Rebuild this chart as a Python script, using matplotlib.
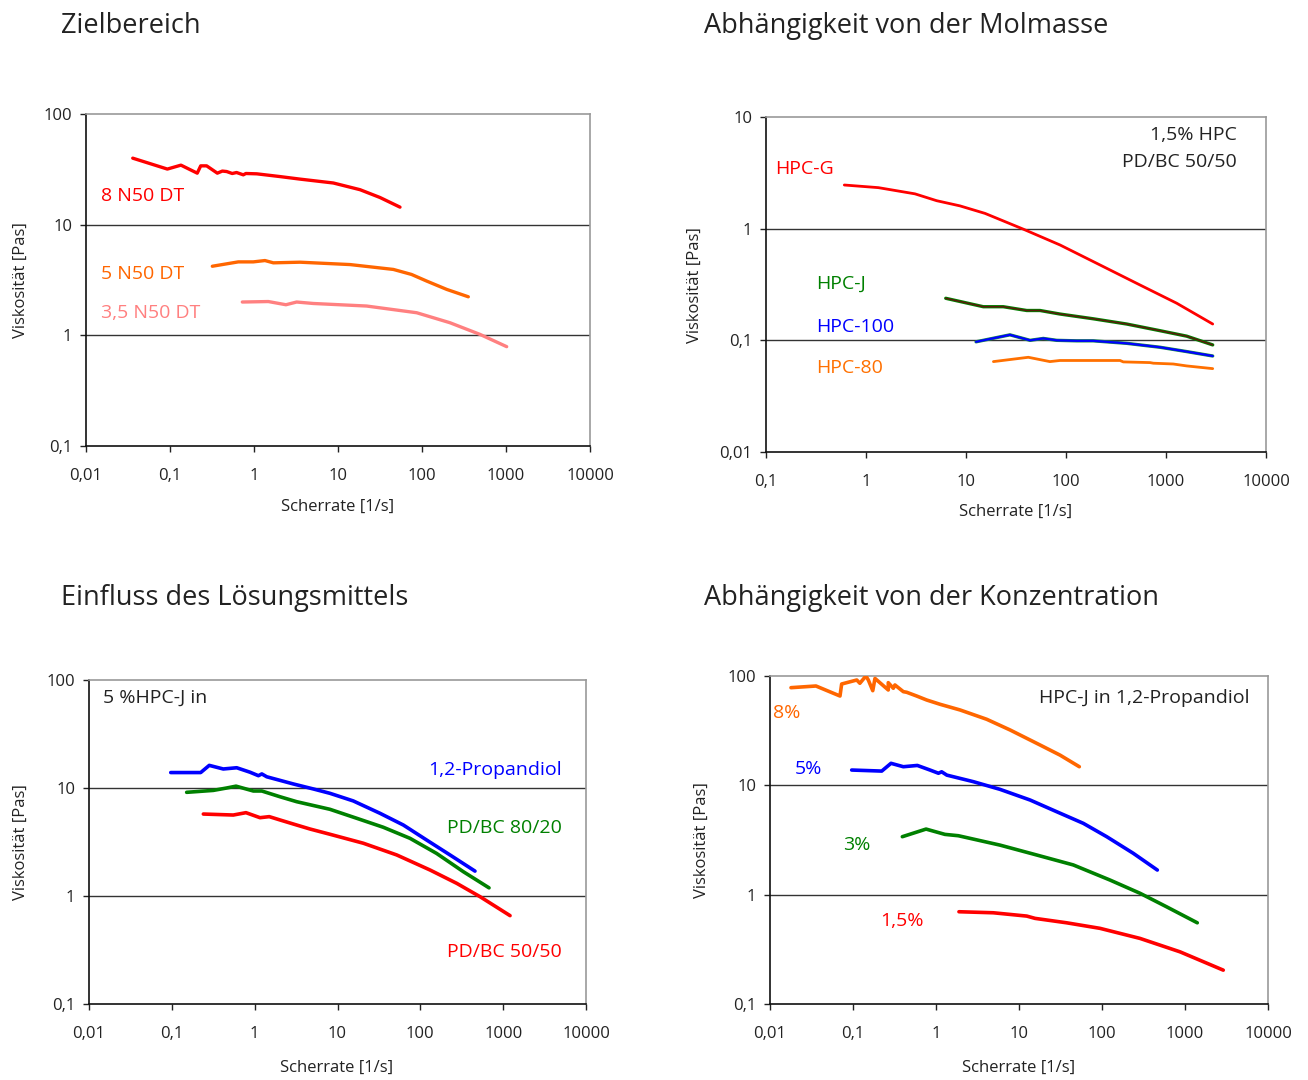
import numpy as np
import matplotlib
matplotlib.use('Agg')
import matplotlib.pyplot as plt
from matplotlib.ticker import FixedLocator, FixedFormatter, NullLocator

plt.rcParams['font.family'] = ['Open Sans', 'DejaVu Sans']

# --- Zielbereich ---
n8_x = [0.036, 0.093, 0.135, 0.211, 0.232, 0.273, 0.366, 0.42, 0.473, 0.55, 0.62, 0.746, 0.8, 1.08, 2.04, 3.53,
        8.8, 18.3, 31.6, 54.7]
n8_y = [39.9, 31.8, 34.5, 29.2, 34.0, 34.0, 29.2, 30.5, 30.2, 29.0, 29.6, 28.2, 29.0, 28.8, 27.2, 25.8,
        23.8, 20.7, 17.6, 14.4]
n5_x = [0.319, 0.65, 0.98, 1.35, 1.7, 3.53, 13.9, 45.6, 75, 114, 197, 356]
n5_y = [4.21, 4.61, 4.61, 4.74, 4.52, 4.58, 4.36, 3.94, 3.55, 3.09, 2.6, 2.23]
n35_x = [0.726, 1.48, 2.4, 3.22, 5.08, 21.9, 86.5, 215, 490, 1019]
n35_y = [2.0, 2.02, 1.89, 2.0, 1.94, 1.84, 1.6, 1.3, 1.02, 0.79]

# --- Molmasse ---
hpcg_x = [0.607, 1.33, 3.09, 5.09, 8.7, 15.5, 37.4, 87, 219, 550, 1279, 2931]
hpcg_y = [2.46, 2.33, 2.05, 1.78, 1.60, 1.37, 0.99, 0.715, 0.473, 0.313, 0.215, 0.140]
hpcj_x = [6.27, 14.9, 23.6, 40.5, 55, 87, 187, 404, 871, 1610, 2931]
hpcj_y = [0.238, 0.200, 0.200, 0.185, 0.185, 0.172, 0.156, 0.140, 0.122, 0.109, 0.091]
hpc100_x = [12.6, 27.5, 43.7, 59.3, 80.8, 128, 187, 404, 871, 1610, 2931]
hpc100_y = [0.097, 0.112, 0.100, 0.104, 0.100, 0.099, 0.099, 0.094, 0.0867, 0.0793, 0.0724]
hpc80_x = [18.8, 42, 69, 87, 347, 374, 692, 747, 1180, 1610, 2931]
hpc80_y = [0.0645, 0.0705, 0.0645, 0.066, 0.066, 0.0641, 0.0632, 0.0624, 0.0614, 0.059, 0.0558]

# --- Lösungsmittel ---
prop_x = [0.097, 0.223, 0.283, 0.418, 0.607, 0.879, 1.11, 1.22, 1.4, 2.93, 5.1, 8.1, 15.5, 32.6, 62.4, 119, 228, 457]
prop_y = [13.9, 13.9, 16.2, 15.0, 15.4, 14.0, 13.0, 13.5, 12.7, 10.9, 9.8, 8.93, 7.59, 5.83, 4.54, 3.30, 2.40, 1.70]
pd80_x = [0.151, 0.316, 0.459, 0.596, 0.964, 1.22, 2.02, 3.21, 8.1, 17.1, 35.7, 75, 157, 330, 675]
pd80_y = [9.12, 9.5, 10.0, 10.4, 9.38, 9.38, 8.3, 7.47, 6.35, 5.24, 4.33, 3.42, 2.48, 1.68, 1.19]
pd50_x = [0.24, 0.552, 0.785, 1.16, 1.5, 2.02, 2.93, 4.66, 8.1, 20.5, 51.8, 131, 275, 525, 1211]
pd50_y = [5.74, 5.62, 5.91, 5.31, 5.43, 5.06, 4.64, 4.17, 3.73, 3.08, 2.40, 1.74, 1.31, 0.986, 0.658]

# --- Konzentration ---
c8_x = [0.0179, 0.0358, 0.0697, 0.073, 0.111, 0.121, 0.143, 0.153, 0.173, 0.184, 0.266, 0.266, 0.306, 0.32, 0.404,
        0.443, 0.585, 0.773, 1.12, 1.95, 4.08, 7.8, 17.9, 31.2, 53.3]
c8_y = [78.2, 81.0, 65.6, 84.5, 91.9, 85.8, 100, 91.9, 73.4, 95.0, 74.5, 86.9, 77.2, 82.8, 71.9,
        71.0, 65.6, 60.3, 55.1, 48.9, 40.2, 32.1, 23.4, 18.9, 14.8]
c5_x = [0.0964, 0.222, 0.287, 0.404, 0.596, 0.847, 1.07, 1.17, 1.35, 2.82, 5.9, 13.6, 28.4, 59.6, 114, 238, 464]
c5_y = [13.8, 13.5, 15.9, 14.8, 15.2, 13.8, 12.9, 13.3, 12.4, 10.8, 9.19, 7.34, 5.74, 4.49, 3.39, 2.39, 1.68]
c3_x = [0.393, 0.759, 1.28, 1.86, 5.9, 14.9, 45.1, 125, 287, 601, 1406]
c3_y = [3.39, 3.98, 3.56, 3.46, 2.84, 2.35, 1.87, 1.36, 1.03, 0.774, 0.553]
c15_x = [1.89, 4.9, 12.4, 15.6, 37.5, 94.6, 287, 871, 2891]
c15_y = [0.698, 0.683, 0.637, 0.607, 0.553, 0.492, 0.398, 0.30, 0.204]

RED = '#ff0000'
ORANGE = '#ff6600'
PINK = '#ff8080'
GREEN = '#008000'
BLUE = '#0000ff'
TXT = '#222222'


def fmt(v):
    s = ('%g' % v) if v >= 1 else ('%.10f' % v).rstrip('0')
    return s.replace('.', ',')


def setup(ax, xlim, ylim):
    ax.set_xscale('log')
    ax.set_yscale('log')
    ax.set_xlim(*xlim)
    ax.set_ylim(*ylim)
    xt = [10.0 ** k for k in range(int(np.log10(xlim[0])), int(np.log10(xlim[1])) + 1)]
    yt = [10.0 ** k for k in range(int(np.log10(ylim[0])), int(np.log10(ylim[1])) + 1)]
    ax.xaxis.set_major_locator(FixedLocator(xt))
    ax.xaxis.set_major_formatter(FixedFormatter([fmt(v) for v in xt]))
    ax.yaxis.set_major_locator(FixedLocator(yt))
    ax.yaxis.set_major_formatter(FixedFormatter([fmt(v) for v in yt]))
    ax.xaxis.set_minor_locator(NullLocator())
    ax.yaxis.set_minor_locator(NullLocator())
    ax.tick_params(direction='out', length=4, width=1, labelsize=12, pad=6,
                   colors='#222222', labelcolor=TXT)
    ax.tick_params(axis='x', pad=12)
    for s in ['top', 'right']:
        ax.spines[s].set_color('#999999')
        ax.spines[s].set_linewidth(1.2)
    for s in ['left', 'bottom']:
        ax.spines[s].set_color('#111111')
        ax.spines[s].set_linewidth(1.2)
    for v in yt[1:-1]:
        ax.axhline(v, color='#333333', lw=1, zorder=1)


def curve(ax, x, y, color, lw=2.6, z=3):
    ax.plot(x, y, color=color, lw=lw, zorder=z, solid_joinstyle='round', solid_capstyle='round')


fig = plt.figure(figsize=(13.08, 10.8), dpi=100)

W, H = 1308, 1080


def axes_px(l, t, r, b):
    return fig.add_axes([l / W, 1 - b / H, (r - l) / W, (b - t) / H])


ax1 = axes_px(86, 114, 590, 446)
ax2 = axes_px(766, 117, 1266, 452)
ax3 = axes_px(89, 680, 586, 1004)
ax4 = axes_px(770, 676, 1268, 1004)

setup(ax1, (0.01, 10000), (0.1, 100))
setup(ax2, (0.1, 10000), (0.01, 10))
setup(ax3, (0.01, 10000), (0.1, 100))
setup(ax4, (0.01, 10000), (0.1, 100))

# Zielbereich
curve(ax1, n8_x, n8_y, RED, 2.4)
curve(ax1, n5_x, n5_y, ORANGE, 2.4)
curve(ax1, n35_x, n35_y, PINK, 2.4)
ax1.text(0.030, 0.753, '8 N50 DT', color=RED, fontsize=14, transform=ax1.transAxes, va='center')
ax1.text(0.030, 0.518, '5 N50 DT', color=ORANGE, fontsize=14, transform=ax1.transAxes, va='center')
ax1.text(0.030, 0.401, '3,5 N50 DT', color=PINK, fontsize=14, transform=ax1.transAxes, va='center')

# Molmasse
curve(ax2, hpcg_x, hpcg_y, RED, 2)
curve(ax2, hpcj_x, hpcj_y, GREEN, 2.4)
curve(ax2, hpcj_x, hpcj_y, '#5a1a0a', 1.1, 4)
curve(ax2, hpc100_x, hpc100_y, '#1a8a4a', 2.4)
curve(ax2, hpc100_x, hpc100_y, BLUE, 1.6, 4)
curve(ax2, hpc80_x, hpc80_y, '#ff7000', 2)
ax2.text(0.018, 0.845, 'HPC-G', color=RED, fontsize=14, transform=ax2.transAxes, va='center')
ax2.text(0.100, 0.501, 'HPC-J', color=GREEN, fontsize=14, transform=ax2.transAxes, va='center')
ax2.text(0.100, 0.373, 'HPC-100', color=BLUE, fontsize=14, transform=ax2.transAxes, va='center')
ax2.text(0.100, 0.251, 'HPC-80', color='#ff7000', fontsize=14, transform=ax2.transAxes, va='center')
ax2.text(0.942, 0.946, '1,5% HPC', color=TXT, fontsize=14, transform=ax2.transAxes, va='center', ha='right')
ax2.text(0.942, 0.866, 'PD/BC 50/50', color=TXT, fontsize=14, transform=ax2.transAxes, va='center', ha='right')

# Lösungsmittel
curve(ax3, prop_x, prop_y, BLUE)
curve(ax3, pd80_x, pd80_y, GREEN)
curve(ax3, pd50_x, pd50_y, RED)
ax3.text(0.028, 0.944, '5 %HPC-J in', color=TXT, fontsize=14, transform=ax3.transAxes, va='center')
ax3.text(0.952, 0.722, '1,2-Propandiol', color=BLUE, fontsize=14, transform=ax3.transAxes, va='center', ha='right')
ax3.text(0.952, 0.543, 'PD/BC 80/20', color=GREEN, fontsize=14, transform=ax3.transAxes, va='center', ha='right')
ax3.text(0.952, 0.160, 'PD/BC 50/50', color=RED, fontsize=14, transform=ax3.transAxes, va='center', ha='right')

# Konzentration
curve(ax4, c8_x, c8_y, ORANGE)
curve(ax4, c5_x, c5_y, BLUE)
curve(ax4, c3_x, c3_y, GREEN)
curve(ax4, c15_x, c15_y, RED)
ax4.text(0.006, 0.887, '8%', color=ORANGE, fontsize=14, transform=ax4.transAxes, va='center')
ax4.text(0.050, 0.716, '5%', color=BLUE, fontsize=14, transform=ax4.transAxes, va='center')
ax4.text(0.147, 0.485, '3%', color=GREEN, fontsize=14, transform=ax4.transAxes, va='center')
ax4.text(0.221, 0.253, '1,5%', color=RED, fontsize=14, transform=ax4.transAxes, va='center')
ax4.text(0.962, 0.933, 'HPC-J in 1,2-Propandiol', color=TXT, fontsize=14, transform=ax4.transAxes,
         va='center', ha='right')

# titles
titles = [(61, 26, 'Zielbereich'), (704, 26, 'Abhängigkeit von der Molmasse'),
          (61, 598, 'Einfluss des Lösungsmittels'), (704, 598, 'Abhängigkeit von der Konzentration')]
for x, y, t in titles:
    fig.text(x / W, 1 - y / H, t, fontsize=19.5, color=TXT, va='center', ha='left')

# axis labels
for x, y in [(338, 507), (1016, 512), (337, 1068), (1019, 1068)]:
    fig.text(x / W, 1 - y / H, 'Scherrate [1/s]', fontsize=12, color=TXT, va='center', ha='center')
for x, y in [(21, 280), (695, 285), (21, 842), (702, 840)]:
    fig.text(x / W, 1 - y / H, 'Viskosität [Pas]', fontsize=12, color=TXT, va='center', ha='center',
             rotation=90)

fig.savefig('out.png', dpi=100)
